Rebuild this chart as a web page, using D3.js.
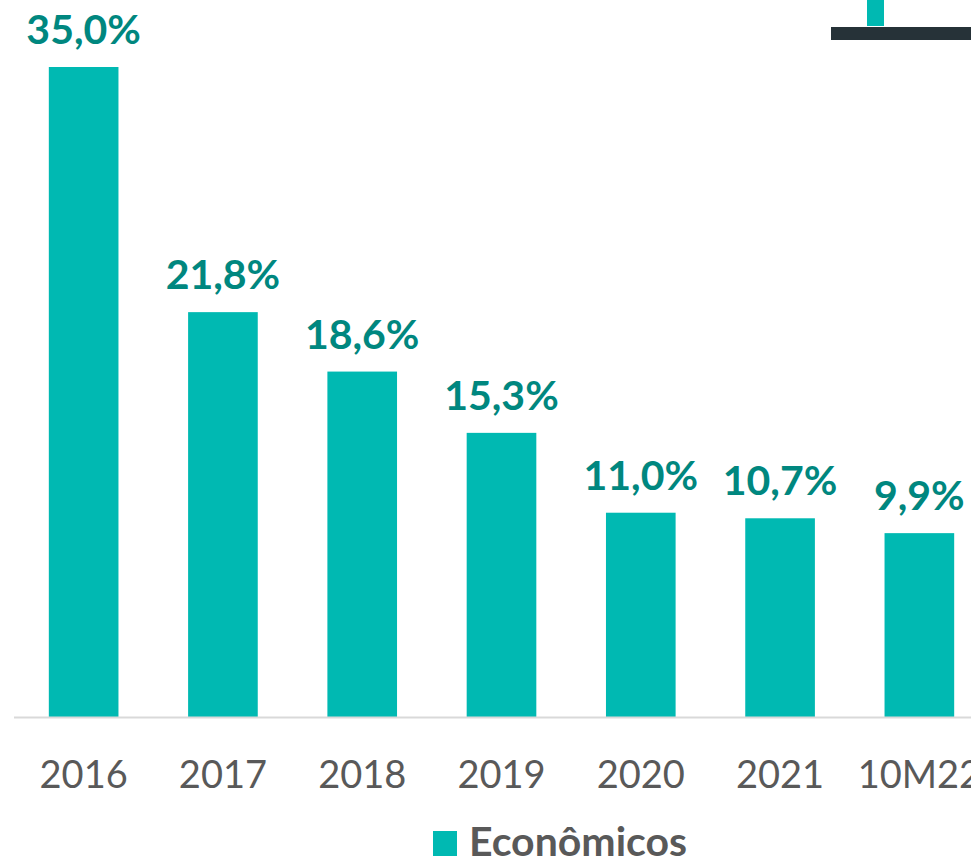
<!DOCTYPE html>
<html>
<head>
<meta charset="utf-8">
<script src="https://cdn.jsdelivr.net/npm/d3@7"></script>
<style>
  html, body { margin: 0; padding: 0; background: #fff; }
  svg { display: block; }
</style>
</head>
<body>
<svg id="chart" width="971" height="859"></svg>
<script>
// Share of "Econômicos" by period
const categories = ["2016", "2017", "2018", "2019", "2020", "2021", "10M22"];
const values = [35.0, 21.8, 18.6, 15.3, 11.0, 10.7, 9.9];
const seriesName = "Econômicos";

const W = 971, H = 859;
const baseY = 717;
const fontFamily = "Lato, 'Open Sans', 'Noto Sans', sans-serif";
const barColor = "#00b9b2";
const labelColor = "#00877f";
const textGray = "#595959";

const svg = d3.select("#chart");

const x = d3.scaleBand()
  .domain(categories)
  .range([14, 989])
  .paddingInner(0.5)
  .paddingOuter(0.25);

const y = d3.scaleLinear()
  .domain([0, 35])
  .range([baseY, 67]);

// decorative header marks
svg.append("rect")
  .attr("x", 867).attr("y", 0).attr("width", 17).attr("height", 26)
  .attr("fill", barColor);
svg.append("rect")
  .attr("x", 831).attr("y", 27).attr("width", W - 831).attr("height", 13)
  .attr("fill", "#263238");

// bars
svg.append("g").selectAll("rect")
  .data(categories.map((c, i) => ({ c, v: values[i] })))
  .join("rect")
  .attr("x", d => x(d.c))
  .attr("y", d => y(d.v))
  .attr("width", x.bandwidth())
  .attr("height", d => baseY - y(d.v))
  .attr("fill", barColor);

// value labels
svg.append("g").selectAll("text")
  .data(categories.map((c, i) => ({ c, v: values[i] })))
  .join("text")
  .attr("x", d => x(d.c) + x.bandwidth() / 2)
  .attr("y", d => y(d.v) - 23)
  .attr("text-anchor", "middle")
  .attr("font-family", fontFamily)
  .attr("font-weight", 700)
  .attr("font-size", 41)
  .attr("fill", labelColor)
  .text(d => d3.format(".1f")(d.v).replace(".", ",") + "%");

// baseline axis
const axis = d3.axisBottom(x).tickSize(0).tickPadding(0);
const gAxis = svg.append("g")
  .attr("transform", `translate(0,${baseY})`)
  .call(axis);
gAxis.select(".domain")
  .attr("d", `M14,0.5H${W}`)
  .attr("stroke", "#d9d9d9")
  .attr("stroke-width", 2);
gAxis.selectAll(".tick text")
  .attr("y", 71)
  .attr("dy", null)
  .attr("font-family", fontFamily)
  .attr("font-size", 38)
  .attr("fill", textGray);

// legend
const legend = svg.append("g");
legend.append("rect")
  .attr("x", 433).attr("y", 831).attr("width", 24).attr("height", 25)
  .attr("fill", barColor);
legend.append("text")
  .attr("x", 469).attr("y", 856)
  .attr("font-family", fontFamily)
  .attr("font-weight", 700)
  .attr("font-size", 41)
  .attr("fill", textGray)
  .text(seriesName);
</script>
</body>
</html>
